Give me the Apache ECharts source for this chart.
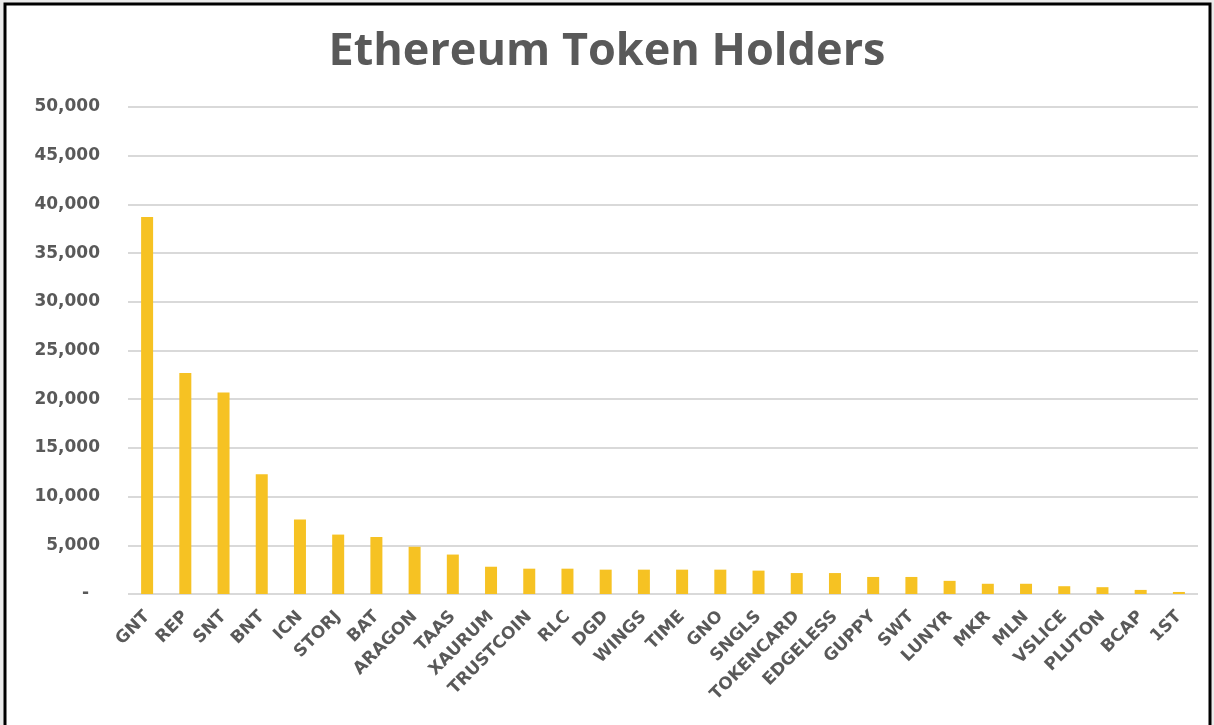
<!DOCTYPE html>
<html>
<head>
<meta charset="utf-8">
<script src="https://cdn.jsdelivr.net/npm/echarts@6/dist/echarts.min.js"></script>
<style>
html,body{margin:0;padding:0;background:#ebebeb;}
#chart{width:1214px;height:725px;}
</style>
</head>
<body>
<div id="chart"></div>
<script>
const titleText = 'Ethereum Token Holders';
const categories = ['GNT','REP','SNT','BNT','ICN','STORJ','BAT','ARAGON','TAAS','XAURUM','TRUSTCOIN','RLC','DGD','WINGS','TIME','GNO','SNGLS','TOKENCARD','EDGELESS','GUPPY','SWT','LUNYR','MKR','MLN','VSLICE','PLUTON','BCAP','1ST'];
const holders = [38700,22700,20700,12300,7650,6100,5850,4850,4050,2800,2600,2600,2500,2500,2500,2500,2400,2150,2150,1750,1750,1350,1050,1050,800,700,420,210];
const yTicks = [0,5000,10000,15000,20000,25000,30000,35000,40000,45000,50000];

const textColor = '#595959';
const titleFont = '"Open Sans", sans-serif';
const labelFont = '"DejaVu Sans", sans-serif';

const chart = echarts.init(document.getElementById('chart'));
chart.setOption({
  backgroundColor: 'transparent',
  animation: false,
  graphic: [
    {type:'rect', z:-10, shape:{x:5, y:4, width:1205, height:760}, style:{fill:'#ffffff', stroke:'#000000', lineWidth:3}}
  ],
  title: {
    text: titleText,
    left: 'center',
    top: 25,
    textStyle: {fontFamily: titleFont, fontWeight: 'bold', fontSize: 45, color: textColor}
  },
  grid: {left: 128, right: 16, top: 107, bottom: 131, containLabel: false},
  xAxis: {
    type: 'category',
    data: categories,
    axisLine: {show: false},
    axisTick: {show: false},
    axisLabel: {
      rotate: 45, margin: 20, interval: 0,
      fontFamily: labelFont, fontWeight: 'bold', fontSize: 17, color: textColor
    }
  },
  yAxis: {
    type: 'value',
    min: yTicks[0], max: yTicks[yTicks.length-1], interval: yTicks[1]-yTicks[0],
    axisLine: {show: false},
    axisTick: {show: false},
    splitLine: {lineStyle: {color: '#d9d9d9', width: 2}},
    axisLabel: {
      margin: 28,
      fontFamily: labelFont, fontWeight: 'bold', fontSize: 17, color: textColor,
      formatter: function (v) {
        if (v === 0) return '{z|-}';
        return v.toLocaleString('en-US');
      },
      rich: {
        z: {fontFamily: labelFont, fontWeight: 'bold', fontSize: 17, color: textColor, padding: [0, 11, 0, 0]}
      }
    }
  },
  series: [{
    type: 'bar',
    data: holders,
    barWidth: 12,
    itemStyle: {color: '#F6C223'}
  }]
});
</script>
</body>
</html>
